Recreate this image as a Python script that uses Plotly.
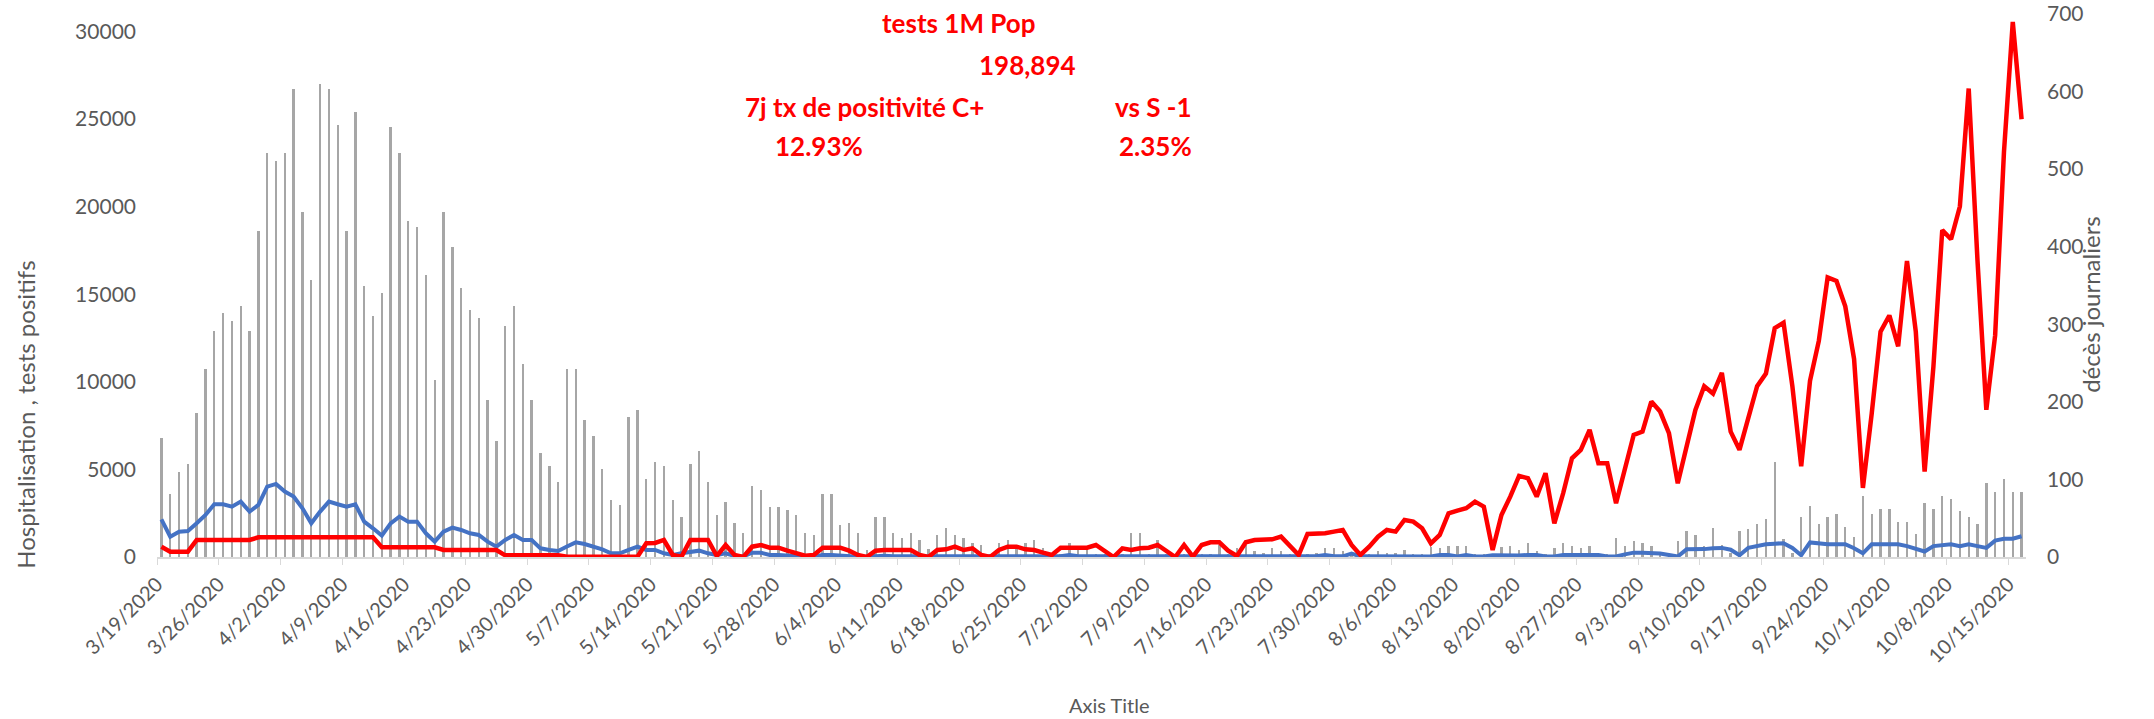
import pandas as pd
import plotly.graph_objects as go

dates = pd.date_range("2020-03-19", "2020-10-16", freq="D")

# décès journaliers (barres, axe de droite)
deces = [153, 81, 110, 120, 186, 242, 291, 314, 304, 324, 291, 420, 521, 511, 521, 603, 445, 357, 610, 603,
         557, 420, 574, 350, 311, 340, 554, 521, 433, 426, 363, 228, 445, 400, 347, 318, 308, 203, 150, 298,
         324, 249, 203, 134, 117, 97, 242,
         243, 176, 156, 114, 74, 67, 180, 189, 100, 123, 117, 74, 51, 120, 137, 97, 54, 71, 44, 31,
         91, 87, 64, 64, 61, 54, 31, 28, 81, 81, 41, 44, 31, 9, 51, 51, 31, 25, 31, 22, 10, 28, 38, 28, 25, 18,
         15, 4, 18, 22, 15, 18, 22, 11, 4, 4, 18, 11, 11, 4, 4, 4, 4, 31, 31, 4, 22, 4, 4, 4, 4, 4, 4, 15,
         4, 11, 15, 8, 5, 11, 8, 4, 4, 4, 5, 11, 11, 8, 5, 4, 4, 8, 5,
         5, 9, 4, 4, 13, 11, 14, 14, 14, 4, 4, 4, 13, 14, 9, 18, 8, 4, 11, 18, 14, 11, 14, 4, 4, 24, 14,
         21, 18, 14, 4, 4, 21, 34, 28, 14, 38,
         16, 5, 33, 36, 42, 49, 122, 23, 5, 52, 66, 42, 52, 55, 39, 26, 78, 55, 62, 62, 45, 45, 30, 69,
         62, 78, 75, 59, 52, 42, 95, 84, 101, 84, 84]

# hospitalisations (ligne bleue, axe de gauche)
hospitalisations = [2150, 1162, 1448, 1486, 1924, 2400, 3010, 3010, 2876, 3162, 2590, 2971, 4019, 4171, 3733,
                    3448, 2781, 1924, 2590, 3162, 3010, 2876, 3010, 2019, 1638, 1219, 1924, 2305, 2019, 2019,
                    1352, 876, 1448, 1676, 1543, 1352, 1257, 876, 590, 971, 1257, 971, 971, 495, 400, 343, 600,
                    838, 743, 590, 438, 210, 210, 400, 590, 400, 400, 210, 114, 210, 305, 362, 210, 114, 210,
                    57, 30, 248, 248, 114, 114, 76, 30, 20, 30, 114, 114, 76, 40, 20, 20, 76, 76,
                    40, 40, 40, 40, 40, 40, 40, 40, 40, 40,
                    40, 40, 40, 40, 40, 40, 40, 40, 40, 40, 114, 40, 40, 40, 40, 40, 40, 40, 40, 40, 40, 40,
                    40, 40, 40, 40, 40, 40, 40, 40, 40, 40, 40, 40, 40, 40, 40, 40, 40, 114, 40, 40, 190, 40,
                    40, 40, 40,
                    30, 30, 30, 30, 30, 114, 114, 30, 114, 30, 30, 100, 80, 80, 80, 114, 114, 30, 30, 114,
                    114, 114, 114, 114, 30, 30, 150, 248, 248, 248, 200, 114, 30, 438, 438,
                    450, 500, 520, 417, 100, 520, 620, 726, 760, 790, 520, 100, 832, 760, 726, 726, 726, 500,
                    210, 726, 726, 726, 726, 620, 480, 316, 623, 680, 726, 623, 726, 623, 520, 935, 1040,
                    1040, 1183, 623]

# tests positifs (ligne rouge, axe de gauche)
tests_positifs = [590, 305, 305, 305] + [971] * 7 + [1124] * 14 + [552] * 7 + [400] * 7 + [95] * 7 + [20] + \
                 [20] * 8 + \
                 [781, 800, 971, 114, 20, 971, 971, 971, 57, 686, 114, 0, 590, 686, 533, 533, 362, 248, 76,
                  114, 533, 533, 533, 362, 114, 0, 362, 400, 400, 400, 400, 114, 0, 400, 438, 590, 400, 495,
                  114, 0, 400, 590, 590, 438, 400, 248, 114, 533, 533, 533, 533, 686, 362, 0, 495, 400, 495,
                  533, 686, 305, 0, 686, 20, 686, 838, 838, 362, 57, 838, 971, 971, 1010, 1162, 590, 114,
                  1314, 1314, 1352, 1448, 1543, 686, 114, 590, 1162, 1543,
                  1448, 2114, 2019, 1638, 781, 1257, 2495, 2648, 2781, 3162, 2876, 400, 2400, 3448, 4628,
                  4495, 3448, 4781, 1924, 3638, 5638, 6114, 7257, 5352, 5352, 3067, 4971, 6971, 7162, 8876,
                  8305, 7067, 4210, 6305, 8400,
                  9748, 9331, 10514, 7154, 6120, 7983, 9748, 10474, 13062, 13376, 9748, 5183, 10057, 12337,
                  15965, 15759, 14308, 11302, 3943, 8194, 12857, 13788, 12028, 16902, 12857, 4874, 10885,
                  18662, 18142, 20011, 26747, 16902, 8400, 12651, 23119, 30542, 24987]

tick_labels = ["3/19/2020", "3/26/2020", "4/2/2020", "4/9/2020", "4/16/2020", "4/23/2020", "4/30/2020",
               "5/7/2020", "5/14/2020", "5/21/2020", "5/28/2020", "6/4/2020", "6/11/2020", "6/18/2020",
               "6/25/2020", "7/2/2020", "7/9/2020", "7/16/2020", "7/23/2020", "7/30/2020", "8/6/2020",
               "8/13/2020", "8/20/2020", "8/27/2020", "9/3/2020", "9/10/2020", "9/17/2020", "9/24/2020",
               "10/1/2020", "10/8/2020", "10/15/2020"]

# ticks on the category boundaries, like the Excel date axis
tick_vals = [d - pd.Timedelta(hours=12) for d in pd.to_datetime(tick_labels, format="%m/%d/%Y")]

FONT = "Lato"
GRAY = "#595959"
TICK_SIZE = 21

fig = go.Figure()
fig.add_trace(go.Bar(x=dates, y=deces, yaxis="y", marker=dict(color="#a6a6a6", line_width=0),
                     width=0.27 * 86400000, name="décès"))
fig.add_trace(go.Scatter(x=dates, y=hospitalisations, yaxis="y2", mode="lines",
                         line=dict(color="#4472C4", width=4), name="hospitalisations"))
fig.add_trace(go.Scatter(x=dates, y=tests_positifs, yaxis="y2", mode="lines",
                         line=dict(color="#FF0000", width=4.5), name="tests positifs"))

fig.update_layout(
    width=2154, height=719,
    margin=dict(l=157, r=128, t=14, b=162),
    plot_bgcolor="white", paper_bgcolor="white",
    showlegend=False, bargap=0,
    font=dict(family=FONT, color=GRAY, size=TICK_SIZE),
    xaxis=dict(
        range=["2020-03-18 12:00", "2020-10-16 12:00"], automargin=False,
        tickmode="array", tickvals=tick_vals, ticktext=tick_labels, tickangle=-45,
        ticks="outside", ticklen=6, tickcolor="#d9d9d9",
        showline=True, linecolor="#d9d9d9", linewidth=1.5, showgrid=False, zeroline=False,
        tickfont=dict(size=TICK_SIZE - 1, color=GRAY),
    ),
    yaxis=dict(
        side="right", range=[0, 700], tickvals=list(range(0, 701, 100)), automargin=False,
        showgrid=False, zeroline=False, showline=False, ticks="",
        ticklabelstandoff=20, tickfont=dict(size=TICK_SIZE, color=GRAY),
    ),
    yaxis2=dict(
        side="left", overlaying="y", range=[0, 31000], tickvals=list(range(0, 30001, 5000)),
        tickformat="d", showgrid=False, zeroline=False, showline=False, ticks="", automargin=False,
        ticklabelstandoff=20, tickfont=dict(size=TICK_SIZE, color=GRAY),
    ),
)

# axis titles
titles = [
    ("Hospitalisation , tests positifs", -0.0701, 0.262, -90, 24),
    ("décès journaliers", 1.0348, 0.4645, -90, 24),
    ("Axis Title", 0.5094, -0.2728, 0, 20),
]
for txt, ax, ay, ang, sz in titles:
    fig.add_annotation(text=txt, xref="paper", yref="paper", x=ax, y=ay, textangle=ang,
                       xanchor="center", yanchor="middle", showarrow=False,
                       font=dict(size=sz, color=GRAY))

# red text box
red_texts = [
    ("tests 1M Pop", 0.4286, 0.9843),
    ("198,894", 0.4660, 0.9069),
    ("7j tx de positivité C+", 0.3783, 0.8295),
    ("vs S -1", 0.5334, 0.8295),
    ("12.93%", 0.3542, 0.7576),
    ("2.35%", 0.5345, 0.7576),
]
for txt, ax, ay in red_texts:
    fig.add_annotation(text=f"<b>{txt}</b>", xref="paper", yref="paper", x=ax, y=ay, showarrow=False,
                       xanchor="center", yanchor="middle",
                       font=dict(size=26, color="#FF0000", family=FONT))

# drop the default 8px body margin so the figure fills the window exactly
fig.write_html("out.html", config={"displayModeBar": False},
               post_script="document.body.style.margin = '0';")
